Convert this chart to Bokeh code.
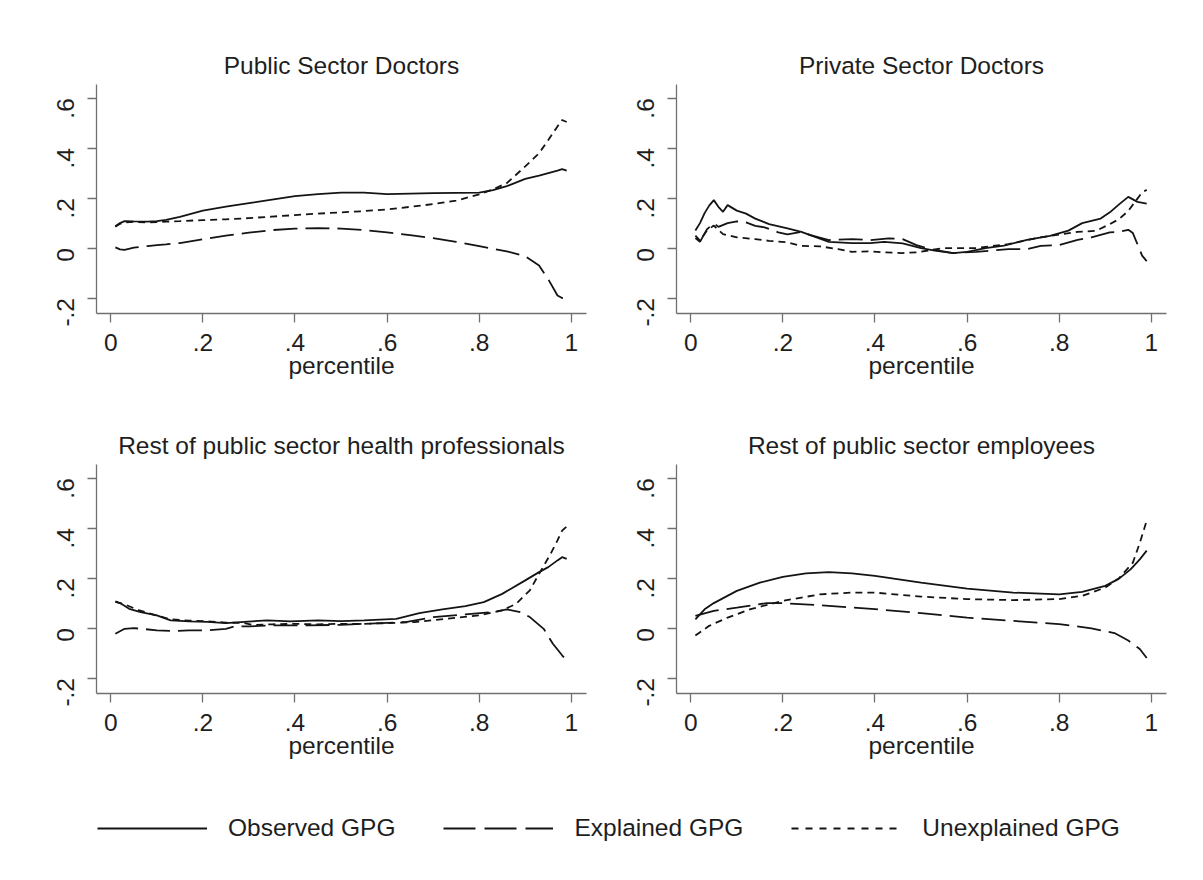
import math
import numpy as np
from bokeh.plotting import figure
from bokeh.layouts import column, row
from bokeh.models import Range1d, FixedTicker, Legend, LegendItem
from bokeh.embed import file_html
from bokeh.resources import INLINE

# ---------------- data ----------------
titles = ["Public Sector Doctors", "Private Sector Doctors",
          "Rest of public sector health professionals", "Rest of public sector employees"]
series_names = ["Observed GPG", "Explained GPG", "Unexplained GPG"]
x_label = "percentile"
x_ticks = [0, 0.2, 0.4, 0.6, 0.8, 1]
x_tick_labels = ["0", ".2", ".4", ".6", ".8", "1"]
y_ticks = [-0.2, 0, 0.2, 0.4, 0.6]
y_tick_labels = ["-.2", "0", ".2", ".4", ".6"]

# Panel 1: Public Sector Doctors
pub_doc_x = [0.01, 0.02, 0.03, 0.05, 0.08, 0.10, 0.12, 0.15, 0.20, 0.25, 0.30, 0.35, 0.40, 0.45,
             0.50, 0.55, 0.60, 0.65, 0.70, 0.75, 0.80, 0.83, 0.86, 0.90, 0.93, 0.95, 0.97, 0.98, 0.99]
pub_doc_obs = [0.087, 0.100, 0.108, 0.107, 0.106, 0.108, 0.113, 0.125, 0.150, 0.166, 0.180, 0.194, 0.208, 0.216,
               0.222, 0.222, 0.216, 0.218, 0.220, 0.221, 0.222, 0.232, 0.248, 0.277, 0.290, 0.300, 0.310, 0.316, 0.310]
pub_doc_exp = [0.003, -0.005, -0.007, 0.002, 0.008, 0.012, 0.015, 0.020, 0.035, 0.050, 0.062, 0.072, 0.078, 0.080,
               0.078, 0.072, 0.063, 0.052, 0.040, 0.025, 0.008, -0.003, -0.013, -0.033, -0.070, -0.125, -0.190, -0.200, -0.200]
pub_doc_unx = [0.085, 0.097, 0.103, 0.105, 0.103, 0.104, 0.106, 0.108, 0.112, 0.115, 0.120, 0.126, 0.132, 0.138,
               0.143, 0.148, 0.155, 0.165, 0.176, 0.190, 0.215, 0.235, 0.260, 0.327, 0.380, 0.433, 0.487, 0.513, 0.505]

# Panel 2: Private Sector Doctors
priv_obs_x = [0.01, 0.02, 0.03, 0.04, 0.05, 0.06, 0.07, 0.08, 0.10, 0.12, 0.14, 0.17, 0.21, 0.24, 0.27, 0.30,
              0.35, 0.39, 0.42, 0.46, 0.50, 0.53, 0.57, 0.60, 0.64, 0.68, 0.73, 0.78, 0.82, 0.85, 0.89, 0.91,
              0.93, 0.95, 0.97, 0.99]
priv_obs = [0.070, 0.100, 0.140, 0.170, 0.192, 0.165, 0.145, 0.172, 0.150, 0.138, 0.118, 0.096, 0.079, 0.065,
            0.045, 0.025, 0.020, 0.020, 0.025, 0.019, 0.000, -0.010, -0.020, -0.015, 0.000, 0.010, 0.033, 0.049,
            0.070, 0.100, 0.118, 0.143, 0.175, 0.205, 0.185, 0.178]
priv_exp_x = [0.01, 0.02, 0.035, 0.05, 0.06, 0.08, 0.10, 0.12, 0.14, 0.16, 0.19, 0.21, 0.24, 0.26, 0.30, 0.35,
              0.39, 0.43, 0.46, 0.49, 0.52, 0.57, 0.62, 0.69, 0.73, 0.76, 0.80, 0.84, 0.87, 0.91, 0.93, 0.95,
              0.96, 0.98, 0.99]
priv_exp = [0.040, 0.025, 0.075, 0.100, 0.085, 0.100, 0.107, 0.103, 0.089, 0.083, 0.063, 0.055, 0.065, 0.052,
            0.032, 0.036, 0.032, 0.039, 0.036, 0.012, -0.005, -0.020, -0.015, -0.004, -0.004, 0.009, 0.012,
            0.033, 0.043, 0.063, 0.065, 0.073, 0.060, -0.030, -0.052]
priv_unx_x = [0.01, 0.02, 0.035, 0.05, 0.07, 0.10, 0.14, 0.17, 0.21, 0.24, 0.28, 0.32, 0.35, 0.39, 0.42, 0.46,
              0.49, 0.55, 0.62, 0.69, 0.76, 0.84, 0.88, 0.91, 0.93, 0.95, 0.98, 0.99]
priv_unx = [0.050, 0.030, 0.070, 0.090, 0.056, 0.043, 0.036, 0.029, 0.023, 0.009, 0.007, -0.004, -0.015, -0.013,
            -0.017, -0.020, -0.017, 0.000, 0.000, 0.016, 0.043, 0.065, 0.069, 0.096, 0.116, 0.149, 0.223, 0.233]

# Panel 3: Rest of public sector health professionals
hp_obs_x = [0.01, 0.02, 0.04, 0.065, 0.10, 0.13, 0.17, 0.21, 0.25, 0.29, 0.34, 0.39, 0.45, 0.50, 0.55, 0.62,
            0.67, 0.72, 0.77, 0.81, 0.85, 0.90, 0.93, 0.95, 0.97, 0.98, 0.99]
hp_obs = [0.107, 0.100, 0.077, 0.064, 0.051, 0.031, 0.027, 0.025, 0.020, 0.025, 0.031, 0.027, 0.031, 0.028, 0.031,
          0.037, 0.060, 0.075, 0.088, 0.104, 0.137, 0.191, 0.224, 0.244, 0.271, 0.284, 0.277]
hp_exp_x = [0.01, 0.03, 0.05, 0.10, 0.14, 0.17, 0.21, 0.25, 0.27, 0.30, 0.36, 0.43, 0.50, 0.55, 0.64, 0.70,
            0.77, 0.83, 0.86, 0.89, 0.91, 0.94, 0.96, 0.98, 0.99]
hp_exp = [-0.023, -0.003, 0.000, -0.009, -0.012, -0.009, -0.009, -0.003, 0.007, 0.007, 0.011, 0.011, 0.013, 0.017,
          0.024, 0.044, 0.055, 0.064, 0.075, 0.064, 0.044, -0.003, -0.063, -0.109, -0.129]
hp_unx_x = [0.01, 0.03, 0.06, 0.10, 0.13, 0.17, 0.21, 0.25, 0.29, 0.31, 0.35, 0.40, 0.45, 0.50, 0.55, 0.62,
            0.66, 0.73, 0.80, 0.85, 0.88, 0.91, 0.93, 0.955, 0.97, 0.98, 0.99]
hp_unx = [0.105, 0.095, 0.072, 0.050, 0.035, 0.030, 0.027, 0.022, 0.020, 0.012, 0.015, 0.017, 0.015, 0.017,
          0.017, 0.021, 0.024, 0.037, 0.051, 0.071, 0.097, 0.151, 0.217, 0.297, 0.351, 0.390, 0.407]

# Panel 4: Rest of public sector employees
emp_obs_x = [0.01, 0.03, 0.05, 0.10, 0.15, 0.20, 0.25, 0.30, 0.35, 0.40, 0.50, 0.60, 0.70, 0.80, 0.85, 0.90,
             0.93, 0.955, 0.975, 0.99]
emp_obs = [0.035, 0.075, 0.100, 0.149, 0.182, 0.205, 0.219, 0.224, 0.219, 0.209, 0.182, 0.158, 0.142, 0.135,
           0.145, 0.169, 0.198, 0.235, 0.275, 0.310]
emp_exp_x = [0.01, 0.05, 0.10, 0.165, 0.20, 0.30, 0.40, 0.50, 0.60, 0.70, 0.80, 0.87, 0.92, 0.95, 0.975, 0.99]
emp_exp = [0.049, 0.069, 0.082, 0.100, 0.100, 0.089, 0.076, 0.060, 0.042, 0.029, 0.016, -0.001, -0.020, -0.050,
           -0.084, -0.120]
emp_unx_x = [0.01, 0.04, 0.08, 0.13, 0.20, 0.28, 0.35, 0.40, 0.50, 0.60, 0.70, 0.80, 0.85, 0.90, 0.93, 0.96,
             0.975, 0.99]
emp_unx = [-0.030, 0.009, 0.042, 0.076, 0.109, 0.135, 0.142, 0.142, 0.126, 0.116, 0.112, 0.116, 0.129, 0.162,
           0.200, 0.262, 0.341, 0.430]

panels = [
    (titles[0], [(pub_doc_x, pub_doc_obs), (pub_doc_x, pub_doc_exp), (pub_doc_x, pub_doc_unx)]),
    (titles[1], [(priv_obs_x, priv_obs), (priv_exp_x, priv_exp), (priv_unx_x, priv_unx)]),
    (titles[2], [(hp_obs_x, hp_obs), (hp_exp_x, hp_exp), (hp_unx_x, hp_unx)]),
    (titles[3], [(emp_obs_x, emp_obs), (emp_exp_x, emp_exp), (emp_unx_x, emp_unx)]),
]

# ---------------- styling ----------------
FONT = "Liberation Sans"
FS = "24.5px"
TXT = "#1e1e1e"
AXC = "#707070"
LINE_C = "#141414"
LW = 1.8
DASHES = ["solid", "24 8", "7 5"]
LEG_DASHES = ["solid", "32 9", "7 7"]


def make_panel(title, series, left, top):
    p = figure(width=left + 490 + 2, height=top + 229 + 75,
               min_border_left=left, min_border_right=2,
               min_border_top=top, min_border_bottom=75,
               x_range=Range1d(-0.031, 1.033), y_range=Range1d(-0.262, 0.655),
               output_backend="svg", toolbar_location=None, title=title)
    p.title.text_font = FONT
    p.title.text_font_size = FS
    p.title.text_font_style = "normal"
    p.title.text_color = TXT
    p.title.align = "center"
    p.title.standoff = 11
    p.outline_line_color = None
    p.grid.visible = False
    p.background_fill_color = "white"
    p.border_fill_color = "white"

    p.xaxis.ticker = FixedTicker(ticks=x_ticks)
    p.xaxis.major_label_overrides = dict(zip(x_ticks, x_tick_labels))
    p.yaxis.ticker = FixedTicker(ticks=y_ticks)
    p.yaxis.major_label_overrides = dict(zip(y_ticks, y_tick_labels))
    p.yaxis.major_label_orientation = math.pi / 2
    p.xaxis.axis_label = x_label
    p.xaxis.axis_label_text_font = FONT
    p.xaxis.axis_label_text_font_size = FS
    p.xaxis.axis_label_text_font_style = "normal"
    p.xaxis.axis_label_text_color = TXT
    p.xaxis.axis_label_standoff = -2
    p.xaxis.major_label_standoff = 11
    p.yaxis.major_label_standoff = 22
    for ax in (p.xaxis, p.yaxis):
        ax.axis_line_color = AXC
        ax.axis_line_width = 1.3
        ax.major_tick_line_color = AXC
        ax.major_tick_line_width = 1.3
        ax.major_tick_out = 9
        ax.major_tick_in = 0
        ax.minor_tick_out = 0
        ax.minor_tick_in = 0
        ax.major_label_text_font = FONT
        ax.major_label_text_font_size = FS
        ax.major_label_text_color = TXT

    for (xs, ys), dash in zip(series, DASHES):
        p.line(xs, ys, line_color=LINE_C, line_width=LW, line_dash=dash)
    return p


lefts = [96, 88, 96, 88]
tops = [84, 84, 76, 76]
figs = [make_panel(t, s, l, tp) for (t, s), l, tp in zip(panels, lefts, tops)]

# legend figure (sample lines only; their data is NaN so nothing is plotted)
leg = figure(width=1168, height=104, min_border=0, toolbar_location=None, output_backend="svg",
             x_axis_location=None, y_axis_location=None,
             x_range=Range1d(0, 1), y_range=Range1d(0, 1))
leg.outline_line_color = None
leg.grid.visible = False
items = []
for name, dash in zip(series_names, LEG_DASHES):
    r = leg.line(x=np.array([np.nan]), y=np.array([np.nan]), line_color=LINE_C, line_width=LW, line_dash=dash)
    items.append(LegendItem(label=name, renderers=[r]))
legend = Legend(items=items, orientation="horizontal", location=(97, 30),
                glyph_width=110, glyph_height=28, label_standoff=21, spacing=48,
                padding=0, margin=0, border_line_alpha=0, background_fill_alpha=0,
                label_text_font=FONT, label_text_font_size=FS, label_text_color=TXT)
leg.add_layout(legend, "center")

layout = column(row(figs[0], figs[1]), row(figs[2], figs[3]), leg)

open("out.html", "w").write(file_html(layout, INLINE))
